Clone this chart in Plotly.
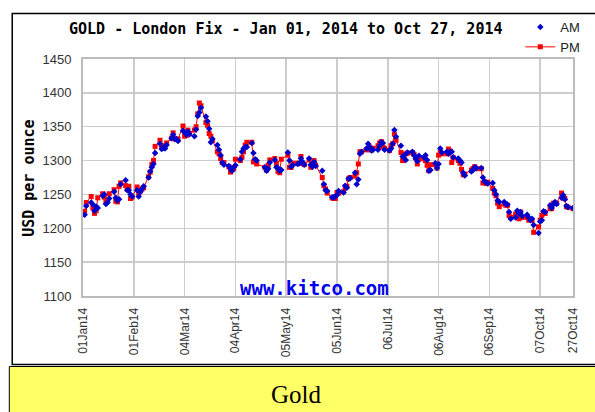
import pandas as pd
import plotly.graph_objects as go

# ---------------- data (USD per ounce, London fix 2014) ----------------
HOLIDAYS = ['2014-01-01', '2014-04-18', '2014-04-21', '2014-05-05', '2014-05-26', '2014-08-25']

JAN_AM = [1220, 1233, 1238, 1235, 1226, 1232, 1230, 1248, 1250, 1236, 1238, 1244, 1254, 1245, 1241, 1243, 1265, 1271, 1256, 1256, 1250, 1247]
JAN_PM = [1225, 1238, 1247, 1230, 1222, 1226, 1245, 1251, 1246, 1239, 1241, 1251, 1257, 1240, 1239, 1262, 1267, 1263, 1258, 1262, 1244, 1246]
FEB_AM = [1256, 1247, 1254, 1258, 1262, 1275, 1284, 1290, 1295, 1311, 1325, 1317, 1319, 1318, 1323, 1333, 1338, 1332, 1332, 1329]
FEB_PM = [1261, 1252, 1255, 1258, 1260, 1276, 1283, 1294, 1300, 1321, 1330, 1322, 1318, 1320, 1326, 1333, 1341, 1332, 1331, 1332]
MAR_AM = [1344, 1342, 1338, 1343, 1339, 1336, 1346, 1366, 1371, 1378, 1365, 1358, 1347, 1327, 1332, 1323, 1316, 1308, 1297, 1294, 1292]
MAR_PM = [1351, 1336, 1337, 1345, 1340, 1345, 1350, 1369, 1385, 1381, 1356, 1352, 1340, 1336, 1330, 1313, 1310, 1303, 1297, 1297, 1291]
APR_AM = [1288, 1285, 1290, 1293, 1302, 1313, 1318, 1320, 1320, 1326, 1311, 1302, 1300, 1290, 1285, 1288, 1297, 1301, 1290, 1289]
APR_PM = [1283, 1287, 1288, 1302, 1300, 1305, 1313, 1323, 1327, 1327, 1298, 1301, 1295, 1290, 1286, 1293, 1301, 1303, 1296, 1284]
MAY_AM = [1285, 1286, 1312, 1300, 1291, 1293, 1295, 1296, 1303, 1298, 1294, 1303, 1294, 1291, 1298, 1292, 1285, 1265, 1256, 1255]
MAY_PM = [1282, 1302, 1308, 1290, 1290, 1296, 1296, 1296, 1306, 1296, 1294, 1301, 1290, 1293, 1300, 1293, 1275, 1263, 1258, 1252]
JUN_AM = [1246, 1246, 1247, 1249, 1255, 1253, 1263, 1260, 1273, 1274, 1282, 1265, 1272, 1310, 1313, 1318, 1325, 1320, 1315, 1316, 1316]
JUN_PM = [1245, 1244, 1244, 1253, 1252, 1254, 1261, 1262, 1273, 1275, 1277, 1282, 1295, 1313, 1313, 1316, 1316, 1320, 1316, 1318, 1322]
JUL_AM = [1322, 1327, 1326, 1316, 1315, 1318, 1325, 1345, 1335, 1322, 1306, 1308, 1301, 1312, 1313, 1308, 1303, 1299, 1307, 1305, 1308, 1301, 1285]
JUL_PM = [1326, 1328, 1320, 1318, 1315, 1322, 1325, 1339, 1330, 1312, 1300, 1302, 1310, 1311, 1312, 1309, 1304, 1295, 1302, 1303, 1300, 1293, 1285]
AUG_AM = [1286, 1296, 1289, 1295, 1318, 1312, 1313, 1310, 1313, 1313, 1305, 1303, 1300, 1297, 1282, 1278, 1284, 1286, 1290, 1289]
AUG_PM = [1294, 1294, 1289, 1308, 1312, 1310, 1310, 1317, 1314, 1297, 1304, 1300, 1296, 1287, 1279, 1280, 1286, 1288, 1291, 1288]
SEP_AM = [1289, 1275, 1269, 1268, 1266, 1267, 1256, 1250, 1241, 1239, 1239, 1236, 1235, 1224, 1214, 1216, 1226, 1222, 1224, 1218, 1220, 1216]
SEP_PM = [1288, 1267, 1268, 1266, 1268, 1259, 1252, 1248, 1237, 1232, 1236, 1234, 1234, 1219, 1216, 1221, 1220, 1214, 1224, 1216, 1216, 1212]
OCT_AM = [1212, 1214, 1205, 1193, 1210, 1212, 1225, 1224, 1234, 1230, 1235, 1239, 1236, 1245, 1249, 1243, 1233, 1231, 1230]
OCT_PM = [1213, 1212, 1194, 1202, 1212, 1219, 1222, 1222, 1229, 1229, 1237, 1237, 1237, 1252, 1245, 1244, 1232, 1231, 1229]

TICK_DATES = ['2014-01-01', '2014-02-01', '2014-03-04', '2014-04-04', '2014-05-05', '2014-06-05',
              '2014-07-06', '2014-08-06', '2014-09-06', '2014-10-07', '2014-10-27']
TICK_TEXT = ['01Jan14', '01Feb14', '04Mar14', '04Apr14', '05May14', '05Jun14',
             '06Jul14', '06Aug14', '06Sep14', '07Oct14', '27Oct14']
Y_TICKS = [1100, 1150, 1200, 1250, 1300, 1350, 1400, 1450]

AM = JAN_AM + FEB_AM + MAR_AM + APR_AM + MAY_AM + JUN_AM + JUL_AM + AUG_AM + SEP_AM + OCT_AM
PM = JAN_PM + FEB_PM + MAR_PM + APR_PM + MAY_PM + JUN_PM + JUL_PM + AUG_PM + SEP_PM + OCT_PM

days = [d for d in pd.bdate_range('2014-01-01', '2014-10-27') if d.strftime('%Y-%m-%d') not in HOLIDAYS]
assert len(days) == len(AM) == len(PM), (len(days), len(AM), len(PM))

# ---------------- layout helpers ----------------
W, H = 595, 412
PLOT_L, PLOT_R, PLOT_T, PLOT_B = 83, 585, 59, 296   # plot area in page pixels
ML, MT = PLOT_L, PLOT_T
MR, MB = W - PLOT_R, H - PLOT_B
PW, PH = W - ML - MR, H - MT - MB


def px(x):
    return (x - ML) / PW


def py(y):
    return (H - MB - y) / PH


fig = go.Figure()
fig.add_trace(go.Scatter(
    x=days, y=PM, name='PM', mode='lines+markers',
    line=dict(color='#ff0000', width=1),
    marker=dict(symbol='square', size=5, color='#ff0000'),
    legendrank=2,
))
fig.add_trace(go.Scatter(
    x=days, y=AM, name='AM', mode='markers',
    marker=dict(symbol='diamond', size=5, color='#0000cc'),
    legendrank=1,
))

mono = dict(family='DejaVu Sans Mono', size=15, color='black', weight='bold')

fig.update_layout(
    width=W, height=H, autosize=False,
    margin=dict(l=ML, r=MR, t=MT, b=MB, pad=0),
    paper_bgcolor='white', plot_bgcolor='white',
    showlegend=True,
    legend=dict(x=px(531), y=py(12), xanchor='left', yanchor='top',
                bgcolor='rgba(0,0,0,0)', itemwidth=30, tracegroupgap=0,
                font=dict(family='Liberation Sans', size=13, color='#222')),
    xaxis=dict(type='date', range=['2014-01-01', '2014-10-27'],
               tickmode='array', tickvals=TICK_DATES, ticktext=TICK_TEXT,
               tickangle=-90, ticks='', ticklabelstandoff=5,
               tickfont=dict(family='Liberation Sans', size=12, color='#333'),
               showgrid=True, gridcolor='#cccccc', gridwidth=1.5,
               showline=True, linecolor='#bbbbbb', linewidth=2, mirror=True,
               zeroline=False, fixedrange=True),
    yaxis=dict(range=[1100, 1450], tickmode='array', tickvals=Y_TICKS,
               ticks='', ticklabelstandoff=7,
               tickfont=dict(family='Liberation Sans', size=13, color='#333'),
               showgrid=True, gridcolor='#cccccc', gridwidth=1.5,
               showline=True, linecolor='#bbbbbb', linewidth=2, mirror=True,
               zeroline=False, fixedrange=True),
    shapes=[
        dict(type='rect', xref='paper', yref='paper',
             x0=px(10.5), x1=px(640), y0=py(364.5), y1=py(13.5),
             line=dict(color='black', width=1.5), fillcolor='rgba(0,0,0,0)', layer='below'),
        dict(type='rect', xref='paper', yref='paper',
             x0=px(7.5), x1=px(640), y0=py(440), y1=py(366.5),
             line=dict(color='black', width=1), fillcolor='#ffff66', layer='below'),
    ],
    annotations=[
        dict(text='GOLD - London Fix - Jan 01, 2014 to Oct 27, 2014', xref='paper', yref='paper',
             x=px(290), y=py(29), xanchor='center', yanchor='middle', showarrow=False, font=mono),
        dict(text='USD per ounce', xref='paper', yref='paper', textangle=-90,
             x=px(27.5), y=py(178), xanchor='center', yanchor='middle', showarrow=False, font=mono),
        dict(text='www.kitco.com', xref='paper', yref='paper',
             x=px(320), y=py(288), xanchor='center', yanchor='middle', showarrow=False,
             font=dict(family='DejaVu Sans Mono', size=19, color='#0000ee', weight='bold')),
        dict(text='Gold', xref='paper', yref='paper',
             x=px(302), y=py(394), xanchor='center', yanchor='middle', showarrow=False,
             font=dict(family='Liberation Serif', size=25, color='black')),
    ],
)

fig.write_html('out.html',
               config={'displayModeBar': False, 'staticPlot': True},
               post_script="document.body.style.margin='0';document.body.style.overflow='hidden';")
